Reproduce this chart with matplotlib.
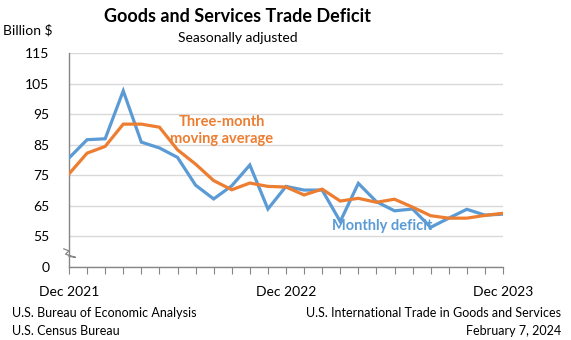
import matplotlib
matplotlib.use("Agg")
import matplotlib.pyplot as plt

plt.rcParams["font.family"] = ["Lato", "DejaVu Sans"]

# Dec 2021 .. Dec 2023, monthly, billions of dollars
months = ["Dec 2021", "Jan 2022", "Feb 2022", "Mar 2022", "Apr 2022", "May 2022",
          "Jun 2022", "Jul 2022", "Aug 2022", "Sep 2022", "Oct 2022", "Nov 2022",
          "Dec 2022", "Jan 2023", "Feb 2023", "Mar 2023", "Apr 2023", "May 2023",
          "Jun 2023", "Jul 2023", "Aug 2023", "Sep 2023", "Oct 2023", "Nov 2023",
          "Dec 2023"]
monthly = [80.7, 86.7, 87.0, 102.7, 85.9, 84.0, 80.9, 71.8, 67.3, 71.6, 78.4, 64.0,
           71.4, 70.2, 70.2, 59.9, 72.4, 66.4, 63.4, 64.0, 58.0, 61.0, 63.9, 62.0,
           62.3]
moving_avg = [75.5, 82.3, 84.5, 91.8, 91.8, 90.8, 83.4, 78.7, 73.3, 70.3, 72.5, 71.4,
              71.2, 68.6, 70.5, 66.6, 67.5, 66.2, 67.2, 64.6, 61.8, 61.0, 61.0, 61.9,
              62.6]
ytick_vals = [45, 55, 65, 75, 85, 95, 105, 115]
ytick_labels = ["0", "55", "65", "75", "85", "95", "105", "115"]
xlabel_idx = [0, 12, 24]

BLUE = "#5B9BD5"
ORANGE = "#ED7D31"
GRID = "#D9D9D9"
AXIS = "#868686"

fig = plt.figure(figsize=(5.71, 3.40), dpi=100)
ax = fig.add_axes([69 / 571, 1 - 267 / 340, 434 / 571, (267 - 53.3) / 340])

x = list(range(len(months)))
ax.plot(x, monthly, color=BLUE, lw=2.3, solid_joinstyle="miter", zorder=3)
ax.plot(x, moving_avg, color=ORANGE, lw=2.3, solid_joinstyle="miter", zorder=4)

ax.set_xlim(0, len(months) - 1)
ax.set_ylim(45, 115)
ax.set_yticks(ytick_vals)
ax.set_yticklabels(ytick_labels, fontsize=10)
ax.yaxis.grid(True, color=GRID, lw=1)
ax.set_axisbelow(True)
ax.tick_params(axis="y", length=0, pad=14)

ax.set_xticks(x)
ax.set_xticklabels([months[i] if i in xlabel_idx else "" for i in x], fontsize=10)
ax.tick_params(axis="x", length=5, color=AXIS, pad=9, direction="out")

for s in ["top", "right"]:
    ax.spines[s].set_visible(False)
for s in ["left", "bottom"]:
    ax.spines[s].set_color(AXIS)
    ax.spines[s].set_linewidth(1)

# axis-break zigzag on the y axis
ax.plot([-0.012, 0.0, -0.008, 0.015, 0.0], [0.085, 0.075, 0.06, 0.045, 0.05],
        transform=ax.transAxes, color=AXIS, lw=0.9, clip_on=False, zorder=5)

ax.text(8.46, 89.8, "Three-month\nmoving average", color=ORANGE, fontsize=10.5,
        fontweight="bold", ha="center", va="center", linespacing=1.3)
ax.text(17.3, 58.3, "Monthly deficit", color=BLUE, fontsize=10.5,
        fontweight="bold", ha="center", va="center")

fig.text(238 / 571, 1 - 17 / 340, "Goods and Services Trade Deficit", fontsize=13,
         fontweight="bold", ha="center", va="center")
fig.text(238 / 571, 1 - 38 / 340, "Seasonally adjusted", fontsize=10,
         ha="center", va="center")
fig.text(3 / 571, 1 - 30 / 340, "Billion $", fontsize=10, ha="left", va="center")

fig.text(12 / 571, 1 - 313 / 340, "U.S. Bureau of Economic Analysis", fontsize=9,
         ha="left", va="center")
fig.text(12 / 571, 1 - 331 / 340, "U.S. Census Bureau", fontsize=9,
         ha="left", va="center")
fig.text(561 / 571, 1 - 313 / 340, "U.S. International Trade in Goods and Services",
         fontsize=9, ha="right", va="center")
fig.text(561 / 571, 1 - 331 / 340, "February 7, 2024", fontsize=9,
         ha="right", va="center")

fig.savefig("out.png", dpi=100)
